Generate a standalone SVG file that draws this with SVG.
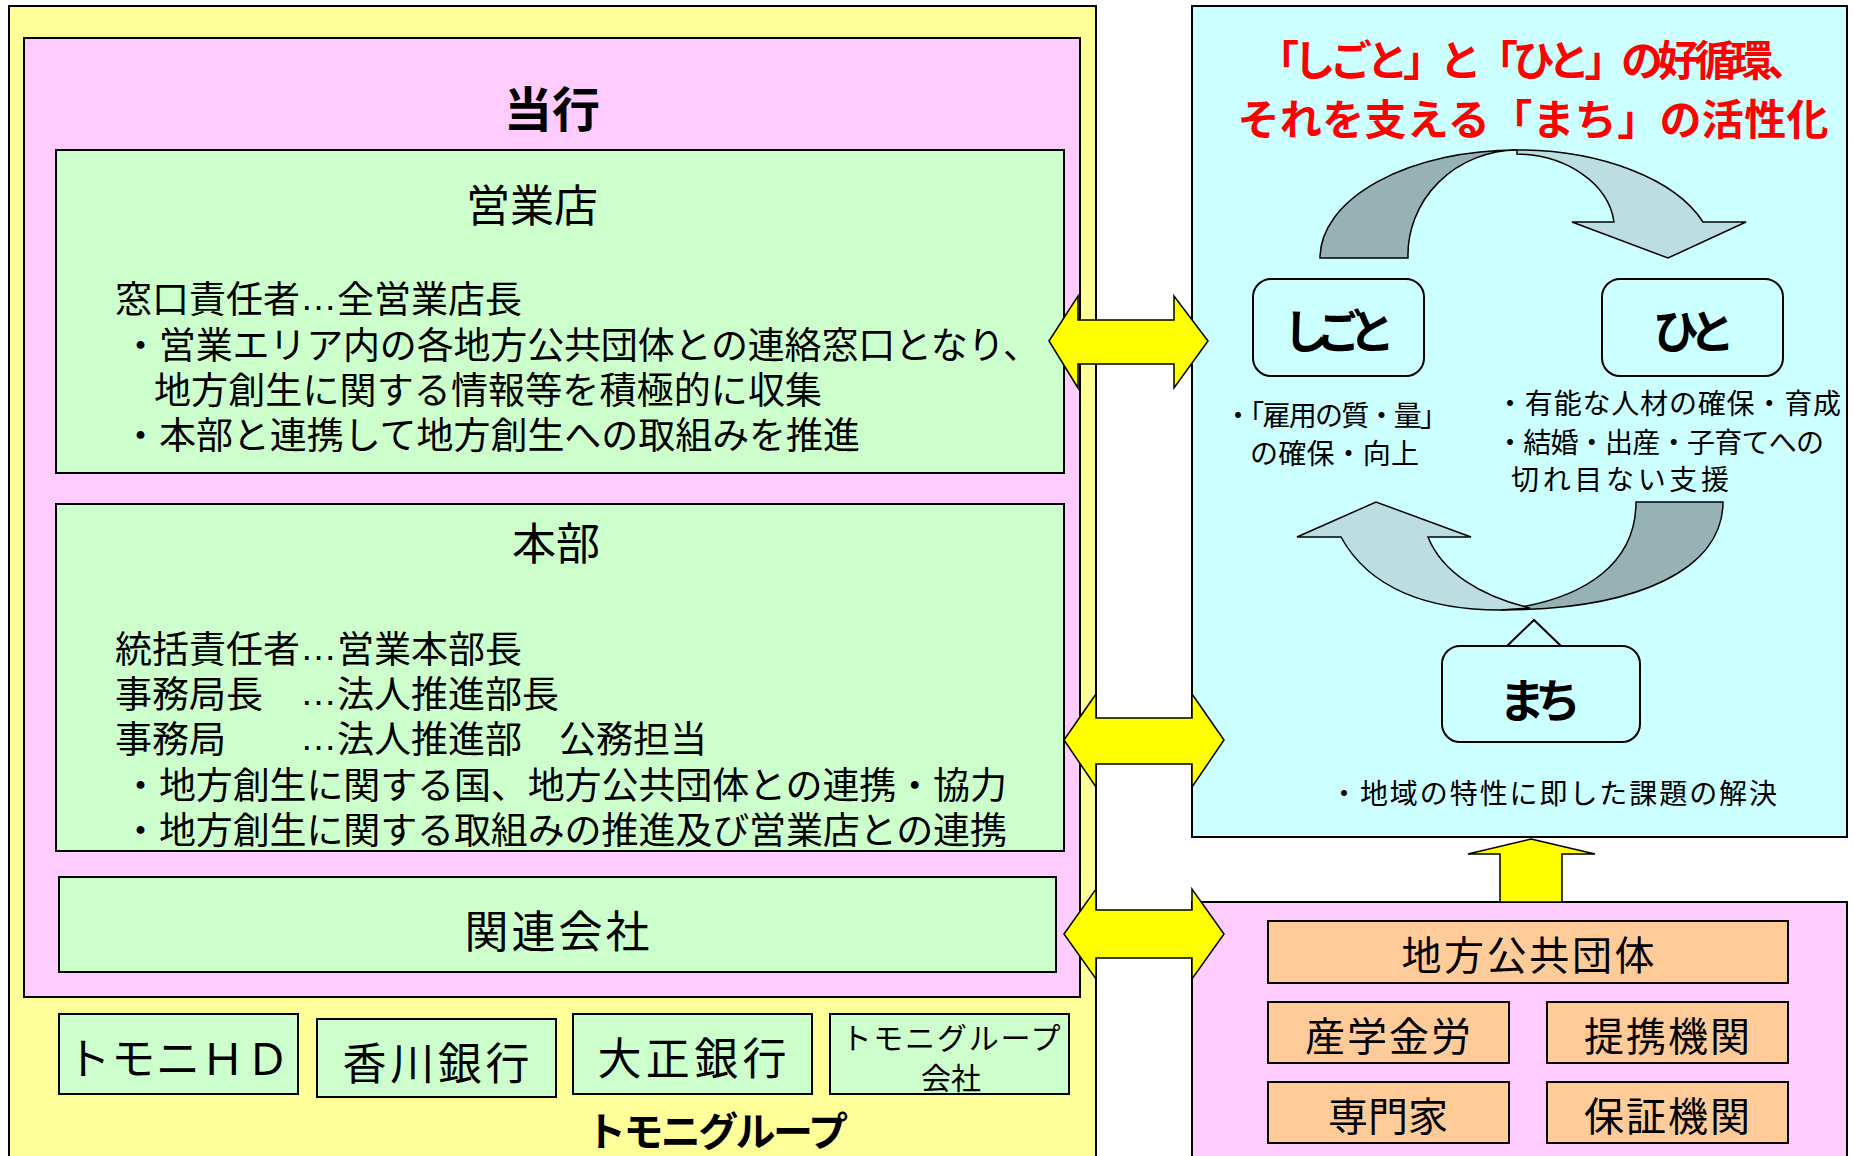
<svg xmlns="http://www.w3.org/2000/svg" width="1854" height="1156" viewBox="0 0 1854 1156">
<style>
text{font-family:"Noto Sans CJK JP","Noto Sans",sans-serif;fill:#000;dominant-baseline:central}
.box{stroke:#000;stroke-width:2}
.yel{fill:#FFFF99}
.pink{fill:#FFCCFF}
.green{fill:#CCFFCC}
.cyan{fill:#CCFFFF}
.orange{fill:#FFCC99}
.rbox{fill:#CCFFFF;stroke:#000;stroke-width:2}
.t1{font-size:46px;font-weight:bold;text-anchor:middle}
.t2{font-size:44px;text-anchor:middle}
.body{font-size:37px}
.dots{font-family:"Liberation Sans",sans-serif}
.small{font-size:28px}
.red{font-size:42px;font-weight:bold;fill:#FF0000;text-anchor:middle}
.arr{fill:#FFFF00;stroke:#000;stroke-width:1.5}
.dark{fill:#97B2B5;stroke:#000;stroke-width:1.5}
.light{fill:#BCDEE0;stroke:#000;stroke-width:1.5}
</style>
<rect width="1854" height="1156" fill="#fff"/>

<g id="tomoni-group">
<rect class="box yel" x="9" y="6" width="1087" height="1160"/>
<text x="717" y="1129" style="font-size:40px;font-weight:bold;text-anchor:middle" textLength="262">トモニグループ</text>
</g>

<g id="touko">
<rect class="box pink" x="24" y="38" width="1056" height="959"/>
<text class="t1" x="552" y="106" style="font-size:48px">当行</text>
</g>

<g id="eigyoten">
<rect class="box green" x="56" y="150" width="1008" height="323"/>
<text class="t2" x="532" y="203">営業店</text>
<text class="body" x="115" y="297">窓口責任者<tspan class="dots">…</tspan>全営業店長</text>
<text class="body" x="122" y="343" textLength="918">・営業エリア内の各地方公共団体との連絡窓口となり、</text>
<text class="body" x="154" y="388" textLength="668">地方創生に関する情報等を積極的に収集</text>
<text class="body" x="122" y="433" textLength="738">・本部と連携して地方創生への取組みを推進</text>
</g>

<g id="honbu">
<rect class="box green" x="56" y="504" width="1008" height="347"/>
<text class="t2" x="556" y="541">本部</text>
<text class="body" x="115" y="647">統括責任者<tspan class="dots">…</tspan>営業本部長</text>
<text class="body" x="115" y="692">事務局長　<tspan class="dots">…</tspan>法人推進部長</text>
<text class="body" x="115" y="737">事務局　　<tspan class="dots">…</tspan>法人推進部　公務担当</text>
<text class="body" x="122" y="783" textLength="885">・地方創生に関する国、地方公共団体との連携・協力</text>
<text class="body" x="122" y="828" textLength="885">・地方創生に関する取組みの推進及び営業店との連携</text>
</g>

<g id="kanren">
<rect class="box green" x="59" y="877" width="997" height="95"/>
<text class="t2" x="557" y="929" textLength="185">関連会社</text>
</g>

<g id="tomoni-hd">
<rect class="box green" x="59" y="1014" width="239" height="80"/>
<text class="t2" x="178" y="1056" textLength="223">トモニＨＤ</text>
</g>
<g id="kagawa">
<rect class="box green" x="317" y="1019" width="239" height="78"/>
<text class="t2" x="436" y="1061" textLength="187">香川銀行</text>
</g>
<g id="taisho">
<rect class="box green" x="573" y="1014" width="239" height="80"/>
<text class="t2" x="692" y="1056" textLength="189">大正銀行</text>
</g>
<g id="group-company">
<rect class="box green" x="830" y="1014" width="239" height="80"/>
<text x="951" y="1036" style="font-size:30px;text-anchor:middle" textLength="219">トモニグループ</text>
<text x="951" y="1076" style="font-size:30px;text-anchor:middle">会社</text>
</g>

<g id="cycle">
<rect class="box cyan" x="1192" y="6" width="655" height="831"/>
<text class="red" x="1533" y="57" textLength="552">「しごと」と「ひと」の好循環、</text>
<text class="red" x="1533" y="116" textLength="591">それを支える「まち」の活性化</text>
<path class="light" d="M1517,150 A197,108 0 0 1 1703,222 L1746,222 L1668,258 L1572,222 L1614,222 A100,76 0 0 0 1517,154 Z"/>
<path class="dark" d="M1320,258 A197,108 0 0 1 1517,150 A110,105 0 0 0 1408,258 Z"/>
<path class="dark" d="M1636,502 L1723,502 C1723,568 1640,610 1500,610 C1590,600 1636,560 1636,502 Z"/>
<path class="light" d="M1341,537 C1370,590 1430,610 1500,610 L1530,608 C1480,596 1442,572 1428,537 L1471,537 L1376,502 L1297,537 Z"/>
<polyline points="1507,646 1534,620 1561,646" fill="#CCFFFF" stroke="#000" stroke-width="2"/>
</g>

<g id="shigoto">
<rect class="rbox" x="1253" y="279" width="171" height="97" rx="18"/>
<text x="1339" y="328" style="font-size:46px;font-weight:bold;text-anchor:middle" textLength="112">しごと</text>
<text class="small" x="1224" y="414" textLength="224">・「雇用の質・量」</text>
<text class="small" x="1250" y="452" textLength="169">の確保・向上</text>
</g>

<g id="hito">
<rect class="rbox" x="1602" y="279" width="181" height="97" rx="18"/>
<text x="1694" y="328" style="font-size:46px;font-weight:bold;text-anchor:middle" textLength="82">ひと</text>
<text class="small" x="1496" y="402" textLength="345">・有能な人材の確保・育成</text>
<text class="small" x="1496" y="441" textLength="328">・結婚・出産・子育てへの</text>
<text class="small" x="1511" y="478" textLength="218">切れ目ない支援</text>
</g>

<g id="machi">
<rect class="rbox" x="1442" y="646" width="198" height="96" rx="18"/>
<text x="1540" y="697" style="font-size:46px;font-weight:bold;text-anchor:middle" textLength="82">まち</text>
<text class="small" x="1330" y="792" textLength="447">・地域の特性に即した課題の解決</text>
</g>

<g id="partners">
<rect class="box pink" x="1192" y="902" width="655" height="270"/>
</g>
<g id="chiho">
<rect class="box orange" x="1268" y="921" width="520" height="62"/>
<text class="t2" x="1528" y="953" style="font-size:40px" textLength="253">地方公共団体</text>
</g>
<g id="sangaku">
<rect class="box orange" x="1268" y="1002" width="241" height="61"/>
<text class="t2" x="1388" y="1034" style="font-size:40px" textLength="166">産学金労</text>
</g>
<g id="teikei">
<rect class="box orange" x="1547" y="1002" width="241" height="61"/>
<text class="t2" x="1667" y="1034" style="font-size:40px" textLength="166">提携機関</text>
</g>
<g id="senmonka">
<rect class="box orange" x="1268" y="1082" width="241" height="61"/>
<text class="t2" x="1388" y="1114" style="font-size:40px">専門家</text>
</g>
<g id="hosho">
<rect class="box orange" x="1547" y="1082" width="241" height="61"/>
<text class="t2" x="1667" y="1114" style="font-size:40px" textLength="166">保証機関</text>
</g>

<g id="connectors">
<polygon class="arr" points="1049,341 1078,296 1078,320 1174,320 1174,296 1208,341 1174,388 1174,364 1078,364 1078,388"/>
<polygon class="arr" points="1064,740 1096,694 1096,718 1192,718 1192,694 1224,740 1192,787 1192,764 1096,764 1096,787"/>
<polygon class="arr" points="1064,934 1096,889 1096,910 1192,910 1192,889 1224,934 1192,979 1192,958 1096,958 1096,979"/>
<polygon class="arr" points="1531,839 1595,854 1562,854 1562,902 1500,902 1500,854 1468,854"/>
</g>
</svg>
